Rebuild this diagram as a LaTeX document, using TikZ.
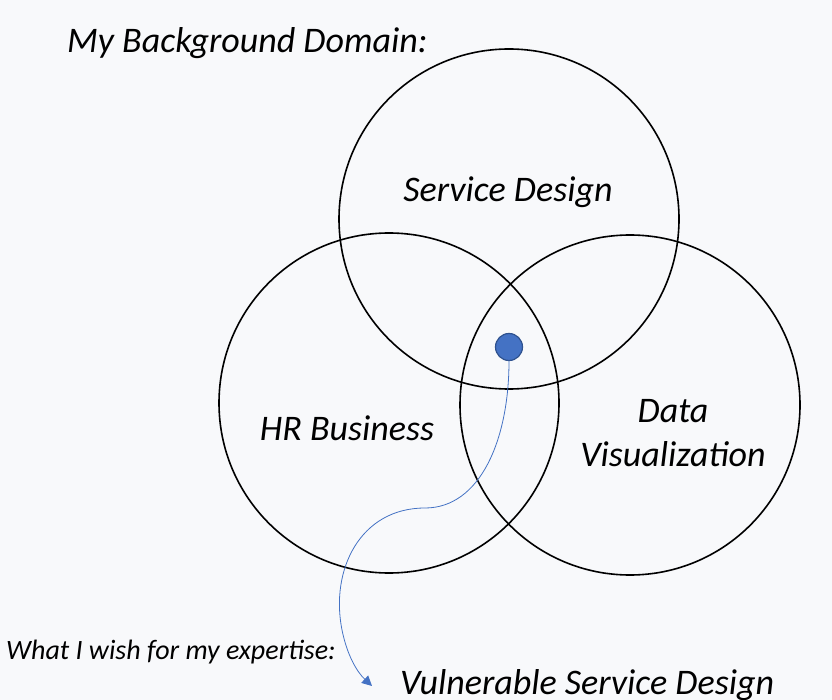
\documentclass[tikz,border=0pt]{standalone}
\usepackage{fontspec}
\setmainfont{Carlito}
\usetikzlibrary{arrows.meta}
\definecolor{bgcol}{HTML}{F8F9FB}
\definecolor{dotfill}{HTML}{4472C4}
\definecolor{dotedge}{HTML}{2F528F}
\begin{document}
\begin{tikzpicture}[x=1pt,y=-1pt,
  ring/.style={draw=black, line width=1.6pt},
  lbl/.style={font=\fontsize{36}{42}\selectfont\itshape, inner sep=0pt, anchor=base},
  small/.style={font=\fontsize{28}{32}\selectfont\itshape, inner sep=0pt, anchor=base west},
  link/.style={draw=dotfill, line width=0.8pt, -{Triangle[length=10pt,width=10pt]}}]
  \fill[bgcol] (0,0) rectangle (832,700);
  \useasboundingbox (0,0) rectangle (832,700);

  % three overlapping domains
  \draw[ring] (509,219) circle (170);
  \draw[ring] (389,403) circle (170);
  \draw[ring] (630,405) circle (170);

  \node[lbl, anchor=base west] (title) at (67,53) {My Background Domain:};
  \node[lbl] (sd) at (508,202) {Service Design};
  \node[lbl] (hr) at (347,440) {HR Business};
  \node[lbl] (dv1) at (673,422) {Data};
  \node[lbl] (dv2) at (673,466) {Visualization};

  % intersection marker
  \node[circle, fill=dotfill, draw=dotedge, line width=1.2pt, minimum size=27pt, inner sep=0pt] (dot) at (509,347) {};

  \node[small] (wish) at (6,659) {What I wish for my expertise:};
  \node[lbl, anchor=base west] (goal) at (400,694) {Vulnerable Service Design};
  \coordinate (tip) at (372,686);

  \draw[link] (dot.south) .. controls (509,440) and (480,508) .. (425,508)
     .. controls (360,508) and (330,570) .. (342,630)
     .. controls (347,655) and (357,672) .. (tip);
\end{tikzpicture}
\end{document}
